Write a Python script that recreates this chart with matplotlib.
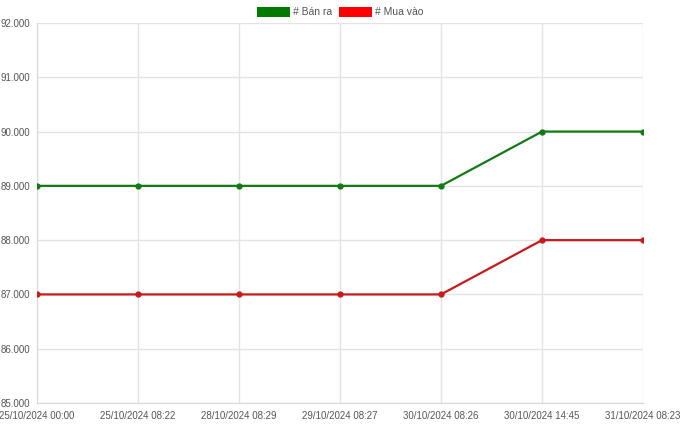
import matplotlib.pyplot as plt
from matplotlib.patches import Patch

labels = ["25/10/2024 00:00", "25/10/2024 08:22", "28/10/2024 08:29",
          "29/10/2024 08:27", "30/10/2024 08:26", "30/10/2024 14:45",
          "31/10/2024 08:23"]
ban_ra = [89000, 89000, 89000, 89000, 89000, 90000, 90000]
mua_vao = [87000, 87000, 87000, 87000, 87000, 88000, 88000]
yticks = [85000, 86000, 87000, 88000, 89000, 90000, 91000, 92000]

plt.rcParams['font.family'] = ['Liberation Sans', 'DejaVu Sans']

fig = plt.figure(figsize=(6.8, 4.24), dpi=100)
ax = fig.add_axes([37/680, 1-403/424, 606/680, 380/424])

x = list(range(len(labels)))
ax.plot(x, ban_ra, color='#137a13', lw=1.6, marker='o', ms=3.5, zorder=3)
ax.plot(x, mua_vao, color='#c81a1a', lw=1.6, marker='o', ms=3.5, zorder=3)

ax.set_xlim(0, len(labels) - 1)
ax.set_ylim(85000, 92000)
ax.set_xticks(x)
ax.set_xticklabels(labels)
ax.set_yticks(yticks)
ax.set_yticklabels(["{:,}".format(v).replace(",", ".") for v in yticks])
ax.grid(True, color='#e3e3e3', lw=1)
ax.set_axisbelow(True)
ax.tick_params(length=0, labelsize=7, colors='#555555')
ax.tick_params(axis='x', pad=6)
ax.tick_params(axis='y', pad=5)
for s in ['top', 'right']:
    ax.spines[s].set_visible(False)
for s in ['left', 'bottom']:
    ax.spines[s].set_color('#d8d8d8')

handles = [Patch(facecolor='#007a00', edgecolor='none', label='# Bán ra'),
           Patch(facecolor='#ff0000', edgecolor='none', label='# Mua vào')]
fig.legend(handles=handles, loc='upper center', bbox_to_anchor=(0.5, 1.005),
           ncol=2, frameon=False, fontsize=7.5, handlelength=3.2, handleheight=1.0,
           columnspacing=0.6, handletextpad=0.3, labelcolor='#555555')

fig.savefig('out.png', dpi=100)
